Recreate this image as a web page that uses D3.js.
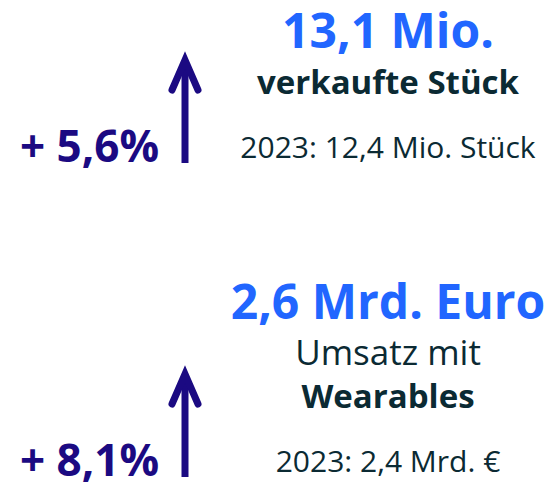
<!DOCTYPE html>
<html>
<head>
<meta charset="utf-8">
<script src="https://cdn.jsdelivr.net/npm/d3@7"></script>
<style>
  html, body { margin: 0; padding: 0; background: #fff; }
  svg { display: block; font-family: "Open Sans", "Noto Sans", sans-serif; }
</style>
</head>
<body>
<svg width="546" height="482"></svg>
<script>
// Kennzahlen Wearables 2024
const blocks = ["stueck", "umsatz"]
const headlines = ["13,1 Mio.", "2,6 Mrd. Euro"]
const growth = ["+ 5,6%", "+ 8,1%"]
const previousYear = ["2023: 12,4 Mio. Stück", "2023: 2,4 Mrd. €"]
// caption lines, bold flag per line
const captions = [
    [["verkaufte Stück", true]],
    [["Umsatz mit", false], ["Wearables", true]]
]

const colors = {blue: "#2166ff", dark: "#0b2a33", purple: "#1b0a82"}

let svg = d3.select("svg")

// bottom line of every block
let scaleBlock = d3.scalePoint()
    .domain(blocks)
    .range([163, 477])

let textX = 388
let arrowX = 185

blocks.forEach(function(b, i){
    let bottom = scaleBlock(b)
    let g = svg.append("g").attr("class", "block-" + b)

    // growth in %
    g.append("text")
        .attr("x", 20)
        .attr("y", bottom - 1)
        .attr("font-size", 44)
        .attr("font-weight", 700)
        .attr("fill", colors.purple)
        .text(growth[i])

    // arrow
    let tip = bottom - 105
    g.append("line")
        .attr("x1", arrowX).attr("x2", arrowX)
        .attr("y1", tip + 3).attr("y2", bottom)
        .attr("stroke", colors.purple)
        .attr("stroke-width", 7)
    g.append("path")
        .attr("d", d3.line()([[arrowX - 13, tip + 32], [arrowX, tip + 2], [arrowX + 13, tip + 32]]))
        .attr("fill", "none")
        .attr("stroke", colors.purple)
        .attr("stroke-width", 7)
        .attr("stroke-linecap", "round")
        .attr("stroke-linejoin", "miter")

    // previous year
    let y = bottom - 5
    g.append("text")
        .attr("x", textX).attr("y", y)
        .attr("text-anchor", "middle")
        .attr("font-size", 30)
        .attr("fill", colors.dark)
        .text(previousYear[i])

    // caption lines, from bottom up
    y = y - 64
    let lines = captions[i].slice().reverse()
    lines.forEach(function(l, j){
        g.append("text")
            .attr("x", textX).attr("y", y)
            .attr("text-anchor", "middle")
            .attr("font-size", l[1] ? 33 : 35)
            .attr("font-weight", l[1] ? 700 : 400)
            .attr("fill", colors.dark)
            .text(l[0])
        if(j < lines.length - 1) y = y - 43
    })

    // headline
    g.append("text")
        .attr("x", textX).attr("y", y - 46)
        .attr("text-anchor", "middle")
        .attr("font-size", 48)
        .attr("font-weight", 700)
        .attr("fill", colors.blue)
        .text(headlines[i])
})
</script>
</body>
</html>
